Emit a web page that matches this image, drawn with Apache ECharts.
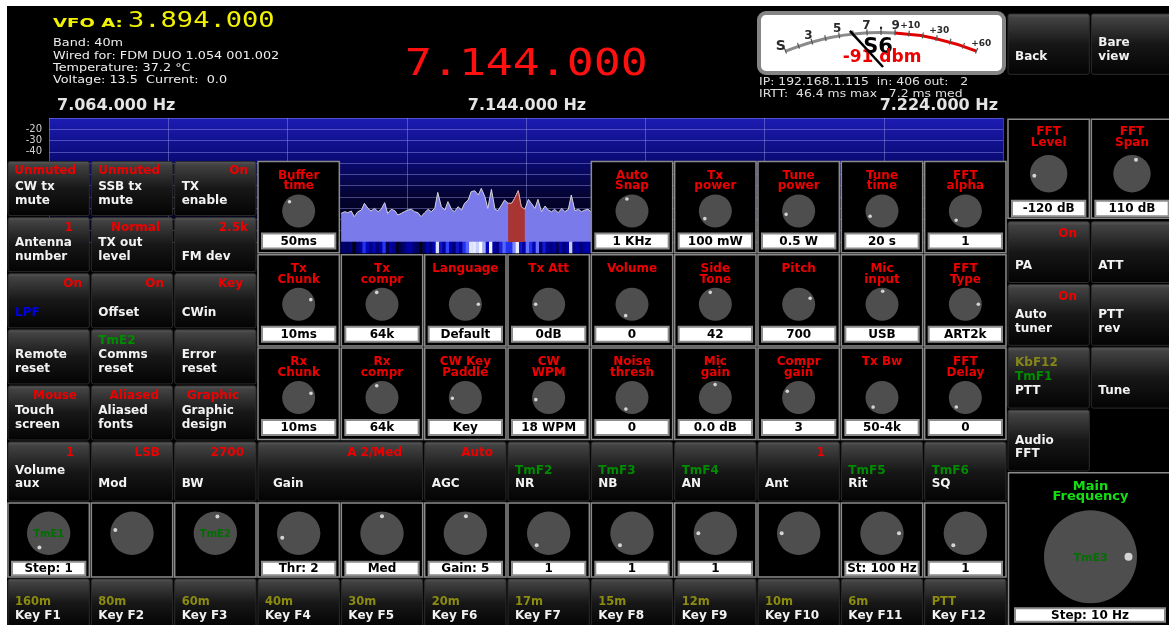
<!DOCTYPE html>
<html>
<head>
<meta charset="utf-8">
<script src="https://cdn.jsdelivr.net/npm/echarts@6/dist/echarts.min.js"></script>
<style>
html,body{margin:0;padding:0;background:#fff;overflow:hidden;}
#chart{width:1169px;height:625px;}
</style>
</head>
<body>
<div id="chart"></div>
<script>
// ================= DATA =================
const vfoAHz = 3894000;
const mainHz = 7144000;
const infoLines = ['Band: 40m', 'Wired for: FDM DUO 1.054 001.002', 'Temperature: 37.2 \u00B0C', 'Voltage: 13.5  Current:  0.0'];
const netLines = ['IP: 192.168.1.115  in: 406 out:   2', 'IRTT:  46.4 ms max   7.2 ms med'];

const spanStartKHz = 7064;
const spanEndKHz = 7224;
const spanStepKHz = 20;
const dbMin = -120;
const dbMax = -10;
const dbStep = 10;
const dbLabelsShown = [-20, -30, -40];

const spectrumFreqKHz = [
  7113.0,7113.6,7114.1,7114.7,7115.2,7115.8,7116.4,7116.9,7117.5,7118.0,
  7118.6,7119.2,7119.7,7120.3,7120.8,7121.4,7122.0,7122.5,7123.1,7123.6,
  7124.2,7124.8,7125.3,7125.9,7126.4,7127.0,7127.6,7128.1,7128.7,7129.2,
  7129.8,7130.4,7130.9,7131.5,7132.0,7132.6,7133.2,7133.7,7134.3,7134.8,
  7135.4,7136.0,7136.5,7137.1,7137.6,7138.2,7138.8,7139.3,7139.9,7140.4,
  7141.0,7141.6,7142.1,7142.7,7143.2,7143.8,7144.4,7144.9,7145.5,7146.0,
  7146.6,7147.2,7147.7,7148.3,7148.8,7149.4,7150.0,7150.5,7151.1,7151.6,
  7152.2,7152.8,7153.3,7153.9,7154.4,7154.9
];
const spectrumDb = [
  -94.6,-93.1,-94.0,-92.5,-97.5,-93.1,-91.6,-85.7,-90.2,-92.5,
  -90.2,-93.1,-91.0,-85.1,-94.6,-91.0,-92.2,-96.1,-94.6,-93.1,
  -91.6,-91.0,-93.1,-94.0,-97.5,-94.0,-91.0,-93.1,-90.2,-76.0,
  -88.7,-91.6,-84.2,-91.0,-93.1,-88.7,-91.6,-85.7,-82.8,-75.4,
  -74.5,-78.3,-72.4,-79.8,-90.2,-73.3,-91.0,-92.2,-87.2,-82.8,
  -85.7,-85.7,-81.3,-74.5,-88.7,-91.0,-82.2,-85.7,-90.2,-82.2,
  -93.1,-88.1,-91.6,-93.1,-91.0,-94.0,-90.2,-93.1,-91.0,-78.3,
  -92.2,-91.0,-93.1,-91.6,-91.0,-93.1
];
const passbandKHz = [7141.0, 7144.0];

const sMeterMin = 1;
const sMeterMax = 15;
const sMeterRedFrom = 9;
const sMeterTickValues = [1, 3, 5, 7, 8, 9, 10, 12, 15];
const sMeterTickLabels = ['S', '3', '5', '7', '.', '9', '+10', '+30', '+60'];
const sMeterReading = 6;
const sMeterText = 'S6';
const dbmReading = -91;

// buttons rows 0-4, cols 0-2 : [value, line1, line2]
const leftButtons = [
  [['Unmuted', 'CW tx', 'mute'], ['Unmuted', 'SSB tx', 'mute'], ['On', 'TX', 'enable']],
  [['1', 'Antenna', 'number'], ['Normal', 'TX out', 'level'], ['2.5k', '', 'FM dev']],
  [['On', '', 'LPF'], ['On', '', 'Offset'], ['Key', '', 'CWin']],
  [['', 'Remote', 'reset'], ['', 'Comms', 'reset'], ['', 'Error', 'reset']],
  [['Mouse', 'Touch', 'screen'], ['Aliased', 'Aliased', 'fonts'], ['Graphic', 'Graphic', 'design']]
];
const leftButtonTags = [['', '', ''], ['', '', ''], ['', '', ''], ['', 'TmE2', ''], ['', '', '']];

// knob panels, rows 0-2, cols 3-11 (null = spectrum visible)
const knobTitles = [
  ['Buffer\ntime', null, null, null, 'Auto\nSnap', 'Tx\npower', 'Tune\npower', 'Tune\ntime', 'FFT\nalpha'],
  ['Tx\nChunk', 'Tx\ncompr', 'Language', 'Tx Att', 'Volume', 'Side\nTone', 'Pitch', 'Mic\ninput', 'FFT\nType'],
  ['Rx\nChunk', 'Rx\ncompr', 'CW Key\nPaddle', 'CW\nWPM', 'Noise\nthresh', 'Mic\ngain', 'Compr\ngain', 'Tx Bw', 'FFT\nDelay']
];
const knobValues = [
  ['50ms', null, null, null, '1 KHz', '100 mW', '0.5 W', '20 s', '1'],
  ['10ms', '64k', 'Default', '0dB', '0', '42', '700', 'USB', 'ART2k'],
  ['10ms', '64k', 'Key', '18 WPM', '0', '0.0 dB', '3', '50-4k', '0']
];
const knobAngles = [
  [135, null, null, null, 113, 216, 195, 204, 225],
  [21, 114, 0, 180, 241, 113, 28, 87, 0],
  [19, 114, 183, 189, 242, 91, 151, 227, 226]
];

// function row (row 5)
const funcValues = ['1', 'LSB', '2700', 'A 2/Med', 'Auto', '', '', '', '1', '', ''];
const funcTags = ['', '', '', '', '', 'TmF2', 'TmF3', 'TmF4', '', 'TmF5', 'TmF6'];
const funcLabels = [['Volume', 'aux'], ['', 'Mod'], ['', 'BW'], ['', 'Gain'], ['', 'AGC'], ['', 'NR'], ['', 'NB'], ['', 'AN'], ['', 'Ant'], ['', 'Rit'], ['', 'SQ']];
const funcSpans = [1, 1, 1, 2, 1, 1, 1, 1, 1, 1, 1];

// bottom knobs (row 6)
const bottomKnobAngles = [237, 169, 83, 195, 90, 88, 225, 225, 180, 180, 0, 225];
const bottomKnobValues = ['Step: 1', '', '', 'Thr: 2', 'Med', 'Gain: 5', '1', '1', '1', '', 'St: 100 Hz', '1'];
const bottomKnobTags = ['TmE1', '', 'TmE2', '', '', '', '', '', '', '', '', ''];

// key row (row 7)
const keyBands = ['160m', '80m', '60m', '40m', '30m', '20m', '17m', '15m', '12m', '10m', '6m', 'PTT'];
const keyNames = ['Key F1', 'Key F2', 'Key F3', 'Key F4', 'Key F5', 'Key F6', 'Key F7', 'Key F8', 'Key F9', 'Key F10', 'Key F11', 'Key F12'];

// right columns
const topRightButtons = [['', 'Back'], ['Bare', 'view']];
const fftTitles = ['FFT\nLevel', 'FFT\nSpan'];
const fftValues = [dbMin + ' dB', (dbMax - dbMin) + ' dB'];
const fftAngles = [188, 74];
const rightButtons = [
  [{ v: 'On', l: ['', 'PA'] }, { v: '', l: ['', 'ATT'] }],
  [{ v: 'On', l: ['Auto', 'tuner'] }, { v: '', l: ['PTT', 'rev'] }],
  [{ v: '', t: ['KbF12', 'TmF1'], l: ['', 'PTT'] }, { v: '', l: ['', 'Tune'] }],
  [{ v: '', l: ['Audio', 'FFT'] }, null]
];
const mainKnob = { title: 'Main\nFrequency', tag: 'TmE3', value: 'Step: 10 Hz', angle: 0 };

// ================= LAYOUT / STYLE =================
const F = 'DejaVu Sans', FM = 'DejaVu Sans Mono';
const RED = '#ee0000', WHITE = '#f2f2f2', GREEN = '#008c00', OLIVE = '#8c8c10', BLUE = '#0000e6', YEL = '#f2f200';
const COL_X0 = 7, COL_W = 83.333;
const colL = c => COL_X0 + c * COL_W;
const leftRedRight = [[76, 160, 248], [73, 160, 248], [82, 164, 243], [0, 0, 0], [77, 159, 239]];
const funcRedRight = [74, 160, 244, 402, 0, 493, 0, 0, 0, 825, 0, 0];

function fmtHz(n) { return String(n).replace(/\B(?=(\d{3})+(?!\d))/g, '.'); }

const els = [];
function T(x, y, s, o) {
  o = o || {};
  if (s === '' || s == null) return;
  els.push({
    type: 'text', x: x, y: y, z: o.z != null ? o.z : 30, scaleX: o.sx || 1, silent: true,
    style: { text: s, fill: o.c || WHITE, fontFamily: o.f || F, fontSize: o.s || 12,
      fontWeight: o.w || 'bold', align: o.a || 'left', verticalAlign: 'middle' }
  });
}
function R(x, y, w, h, style, z, r) {
  els.push({ type: 'rect', z: z, silent: true, shape: { x: x, y: y, width: w, height: h, r: r || 0 }, style: style });
}
function C(cx, cy, r, fill, z) {
  els.push({ type: 'circle', z: z, silent: true, shape: { cx: cx, cy: cy, r: r }, style: { fill: fill } });
}
const BTN_FILL = { type: 'linear', x: 0, y: 0, x2: 0, y2: 1, colorStops: [
  { offset: 0, color: '#5c5c5c' }, { offset: 0.07, color: '#424242' }, { offset: 0.5, color: '#171717' }, { offset: 1, color: '#030303' }] };
function button(x, y, w, h) { R(x + 1, y + 1, w - 2, h - 2, { fill: BTN_FILL, stroke: '#2c2c2c', lineWidth: 1 }, 20, 2); }
function panel(x, y, w, h) { R(x + 1, y + 1, w - 2, h - 2, { fill: '#000', stroke: '#8a8a8a', lineWidth: 1.5 }, 20); }
function valueBox(x, y, w, h, s) {
  if (!s) return;
  R(x, y, w, h, { fill: '#fff', stroke: '#8c8c8c', lineWidth: 2 }, 21);
  T(x + w / 2, y + h / 2 + 0.5, s, { c: '#000', a: 'center', z: 22 });
}
function knob(cx, cy, r, ang, dd, dr) {
  C(cx, cy, r, '#4e4e4e', 21);
  const a = ang * Math.PI / 180;
  C(cx + dd * Math.cos(a), cy - dd * Math.sin(a), dr, '#d4d4d4', 22);
}
function titleLines(cx, y1, y2, t, color, size) {
  const ls = t.split('\n');
  if (ls.length === 1) T(cx, y1, ls[0], { c: color, a: 'center', s: size });
  else { T(cx, y1, ls[0], { c: color, a: 'center', s: size }); T(cx, y2, ls[1], { c: color, a: 'center', s: size }); }
}

// background
R(7, 6, 1162, 619, { fill: '#000' }, -5);

// header
T(53, 24, 'VFO A:', { c: YEL, s: 12.5, sx: 1.45 });
T(128, 21.5, fmtHz(vfoAHz), { c: YEL, f: FM, w: 'normal', s: 22, sx: 1.23 });
[43.3, 56, 68.3, 80.7].forEach((y, i) => T(53, y, infoLines[i], { w: 'normal', s: 10.5, sx: 1.22, c: '#eeeeee' }));
T(405, 65.5, fmtHz(mainHz), { c: '#ff1010', f: FM, w: 'normal', s: 37, sx: 1.21 });
T(57, 106, fmtHz(spanStartKHz * 1000) + ' Hz', { c: '#e4e4e4', s: 16 });
T(527, 106, fmtHz((spanStartKHz + spanEndKHz) / 2 * 1000) + ' Hz', { c: '#e4e4e4', s: 16, a: 'center' });
T(998, 106, fmtHz(spanEndKHz * 1000) + ' Hz', { c: '#e4e4e4', s: 16, a: 'right' });
T(759, 82.3, netLines[0], { w: 'normal', s: 10, sx: 1.24, c: '#e0e0e0' });
T(759, 94, netLines[1], { w: 'normal', s: 10, sx: 1.24, c: '#e0e0e0' });

// S-meter face
R(759, 13, 245, 60, { fill: '#ffffff', stroke: '#858585', lineWidth: 4 }, 0, 7);
T(878, 47.5, sMeterText, { c: '#000', s: 21, a: 'center', z: 1 });
T(882, 57.5, dbmReading + ' dbm', { c: '#ee0000', s: 17, a: 'center', z: 1 });

// top right buttons
topRightButtons.forEach((b, i) => {
  const x = colL(12 + i);
  button(x, 13, COL_W, 62.3);
  T(x + 8, 43, b[0]); T(x + 8, 57, b[1]);
});

// left buttons rows 0-4
for (let r = 0; r < 5; r++) {
  for (let c = 0; c < 3; c++) {
    const x = colL(c), y = 160.5 + 56.1 * r;
    const b = leftButtons[r][c];
    button(x, y, COL_W, 56.1);
    if (b[0]) T(leftRedRight[r][c], y + 10.8, b[0], { c: RED, a: 'right' });
    if (leftButtonTags[r][c]) T(x + 8, y + 12, leftButtonTags[r][c], { c: GREEN });
    T(x + 8, y + 26, b[1]);
    T(x + 8, y + 40.3, b[2], { c: (r === 2 && c === 0) ? BLUE : WHITE });
  }
}

// knob panels rows 0-2
for (let r = 0; r < 3; r++) {
  for (let k = 0; k < 9; k++) {
    const t = knobTitles[r][k];
    if (t == null) continue;
    const x = colL(3 + k), y = 160.5 + 93.3 * r, cx = x + COL_W / 2;
    panel(x, y, COL_W, 93.3);
    titleLines(cx, y + 15.2, y + 25.7, t, RED, 12);
    knob(cx, y + 50.5, 16.5, knobAngles[r][k], 13, 1.8);
    valueBox(x + 5, y + 73, COL_W - 10, 15, knobValues[r][k]);
  }
}

// function row (row 5)
{
  let c = 0;
  funcValues.forEach((v, i) => {
    const x = colL(c), y = 441, w = COL_W * funcSpans[i];
    button(x, y, w, 61);
    if (v) T(funcRedRight[c], y + 11.5, v, { c: RED, a: 'right' });
    const lx = funcSpans[i] > 1 ? x + 16 : x + 8;
    if (funcTags[i]) T(lx, y + 29.7, funcTags[i], { c: GREEN });
    T(lx, y + 30, funcLabels[i][0]);
    T(lx, y + 43.3, funcLabels[i][1]);
    c += funcSpans[i];
  });
}

// bottom knob row (row 6)
bottomKnobAngles.forEach((a, c) => {
  const x = colL(c), y = 502, cx = x + COL_W / 2;
  panel(x, y, COL_W, 76);
  knob(cx, y + 31.3, 21.7, a, 17, 2);
  if (bottomKnobTags[c]) T(cx, y + 32, bottomKnobTags[c], { c: '#006e00', a: 'center', s: 10, z: 23 });
  valueBox(x + 5, y + 59.7, COL_W - 10, 13.5, bottomKnobValues[c]);
});

// key row (row 7)
keyNames.forEach((n, c) => {
  const x = colL(c), y = 578;
  button(x, y, COL_W, 50);
  T(x + 8, y + 24.3, keyBands[c], { c: OLIVE, s: 11.5 });
  T(x + 8, y + 38, n);
});

// right: FFT level / span
fftTitles.forEach((t, i) => {
  const x = colL(12 + i), y = 118.3, cx = x + COL_W / 2;
  panel(x, y, COL_W, 101);
  titleLines(cx, y + 13.7, y + 24.3, t, RED, 12);
  knob(cx, y + 55.4, 18.7, fftAngles[i], 14.5, 2);
  valueBox(x + 5, y + 82.5, COL_W - 10, 15.5, fftValues[i]);
});

// right buttons
rightButtons.forEach((row, r) => {
  row.forEach((b, i) => {
    if (!b) return;
    const x = colL(12 + i), y = 220.7 + 62.8 * r;
    button(x, y, COL_W, 62.8);
    if (b.v) T(x + 70, y + 13.5, b.v, { c: RED, a: 'right' });
    if (b.t) { T(x + 8, y + 16.6, b.t[0], { c: '#86861a' }); T(x + 8, y + 30.6, b.t[1], { c: GREEN }); }
    T(x + 8, y + 31.5, b.l[0]);
    T(x + 8, y + 45, b.l[1]);
  });
});

// main frequency knob
{
  const x = 1007.5, y = 471.7, cx = 1090.5;
  panel(x, y, 170, 160);
  titleLines(cx, y + 15, y + 25, mainKnob.title, '#12e012', 13);
  knob(cx, 556.7, 46.5, mainKnob.angle, 38, 4);
  T(cx, 558.5, mainKnob.tag, { c: '#007000', a: 'center', s: 11, z: 23 });
  valueBox(1015, 608.3, 150, 13.5, mainKnob.value);
}

// ================= CHART =================
const chart = echarts.init(document.getElementById('chart'), null, { renderer: 'canvas' });
const passband = spectrumFreqKHz.map((f, i) => [f, spectrumDb[i]]).filter(p => p[0] >= passbandKHz[0] && p[0] <= passbandKHz[1]);
const gridLine = 'rgba(150,150,230,0.45)';

chart.setOption({
  backgroundColor: '#ffffff',
  animation: false,
  grid: [
    { left: 49, top: 118, width: 954, height: 124, show: true, borderWidth: 0,
      backgroundColor: { type: 'linear', x: 0, y: 0, x2: 0, y2: 1, colorStops: [
        { offset: 0, color: '#1c1cb4' }, { offset: 0.33, color: '#0b0b78' }, { offset: 0.65, color: '#03032e' }, { offset: 1, color: '#000010' }] } },
    { left: 339.3, top: 242, width: 253.3, height: 11 }
  ],
  xAxis: [
    { gridIndex: 0, type: 'value', min: spanStartKHz, max: spanEndKHz, interval: spanStepKHz,
      axisLine: { show: false }, axisTick: { show: false }, axisLabel: { show: false },
      splitLine: { show: true, lineStyle: { color: gridLine, width: 1 } } },
    { gridIndex: 1, type: 'category', data: spectrumFreqKHz.map(String), show: false }
  ],
  yAxis: [
    { gridIndex: 0, type: 'value', min: dbMin, max: dbMax, interval: dbStep,
      axisLine: { show: false }, axisTick: { show: false },
      axisLabel: { showMaxLabel: false, color: '#d0d0d0', fontSize: 10, fontFamily: F, margin: 7,
        formatter: v => dbLabelsShown.indexOf(v) >= 0 ? String(v) : '' },
      splitLine: { show: true, lineStyle: { color: gridLine, width: 1 } } },
    { gridIndex: 1, type: 'category', data: ['0'], show: false }
  ],
  visualMap: [{ type: 'continuous', show: false, seriesIndex: 2, min: -97, max: -72,
    inRange: { color: ['#000010', '#0000b0', '#2a3cff', '#c8d0ff', '#ffffff'] } }],
  series: [
    { type: 'line', xAxisIndex: 0, yAxisIndex: 0, silent: true, symbol: 'none', z: 2,
      data: spectrumFreqKHz.map((f, i) => [f, spectrumDb[i]]),
      lineStyle: { color: '#d6d6d6', width: 1 }, areaStyle: { color: '#7a7aea', opacity: 1, origin: 'start' } },
    { type: 'line', xAxisIndex: 0, yAxisIndex: 0, silent: true, symbol: 'none', z: 3,
      data: passband, lineStyle: { color: '#d8a0a0', width: 1 }, areaStyle: { color: '#a83434', opacity: 1, origin: 'start' } },
    { type: 'heatmap', xAxisIndex: 1, yAxisIndex: 1, silent: true,
      data: spectrumDb.map((v, i) => [i, 0, v]), itemStyle: { borderWidth: 0 } },
    { type: 'gauge', silent: true, center: [881, 285], radius: 254, startAngle: 112.2, endAngle: 67.8,
      min: sMeterMin, max: sMeterMax, splitNumber: sMeterMax - sMeterMin, z: 3,
      axisLine: { lineStyle: { width: 3, color: [[(sMeterRedFrom - sMeterMin) / (sMeterMax - sMeterMin), '#8a8a8a'], [1, '#e00000']] } },
      splitLine: { distance: -5, length: 6, lineStyle: { color: '#555555', width: 1.2 } },
      axisTick: { show: false },
      axisLabel: { distance: -12.5, color: '#2a2a2a', fontFamily: F, fontWeight: 'bold', fontSize: 12,
        formatter: function (v) {
          const i = sMeterTickValues.indexOf(Math.round(v));
          if (i < 0) return '';
          const s = sMeterTickLabels[i];
          if (s.charAt(0) === '+') return '{p|' + s + '}';
          if (s === 'S') return '{s|S}';
          return s;
        },
        rich: { p: { fontSize: 9, fontWeight: 'bold', color: '#2a2a2a', fontFamily: F },
                s: { fontSize: 14, fontWeight: 'bold', color: '#2a2a2a', fontFamily: F } } },
      pointer: { show: false }, anchor: { show: false }, title: { show: false }, detail: { show: false },
      data: [{ value: sMeterReading }] },
    { type: 'gauge', silent: true, center: [883, 67], radius: 49, startAngle: 160, endAngle: 83,
      min: sMeterMin, max: sMeterMax, z: 4,
      axisLine: { show: false }, splitLine: { show: false }, axisTick: { show: false }, axisLabel: { show: false },
      pointer: { show: true, icon: 'rect', width: 2.5, length: 49, offsetCenter: [0, 0], itemStyle: { color: '#000' } },
      anchor: { show: false }, title: { show: false }, detail: { show: false },
      data: [{ value: sMeterReading }] }
  ],
  graphic: { elements: els }
});
</script>
</body>
</html>
